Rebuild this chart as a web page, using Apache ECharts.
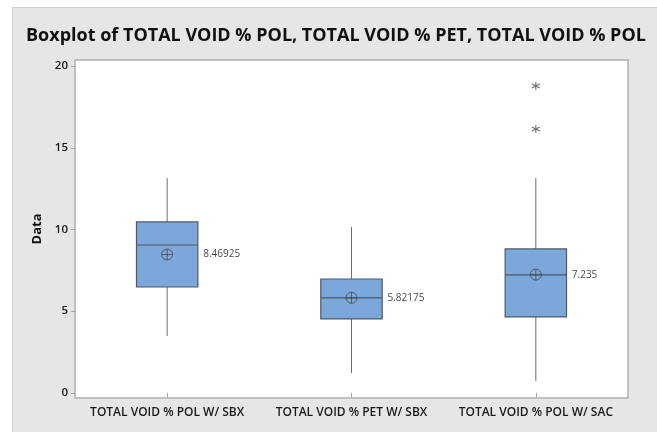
<!DOCTYPE html>
<html>
<head>
<meta charset="utf-8">
<script src="https://cdn.jsdelivr.net/npm/echarts@6/dist/echarts.min.js"></script>
<style>html,body{margin:0;padding:0;background:#fff;}#c{width:657px;height:432px;}</style>
</head>
<body>
<div id="c"></div>
<script>
const categories = ['TOTAL VOID % POL W/ SBX', 'TOTAL VOID % PET W/ SBX', 'TOTAL VOID % POL W/ SAC'];
// [min whisker, Q1, median, Q3, max whisker]
const boxStats = [
  [3.49, 6.48, 9.05, 10.46, 13.15],
  [1.22, 4.53, 5.81, 6.97, 10.15],
  [0.73, 4.65, 7.22, 8.81, 13.15]
];
const means = [8.46925, 5.82175, 7.235];
const outliers = [[2, 18.78], [2, 16.15]];
const yTicks = [0, 5, 10, 15, 20];

const chart = echarts.init(document.getElementById('c'));
const FONT = 'Open Sans';
const boxData = boxStats.map((s, i) => [i].concat(s));
const meanData = means.map((m, i) => [i, m]);

const crossCircle = 'path://M0,-10A10,10 0 1,1 0,10A10,10 0 1,1 0,-10Z M-10,0L10,0 M0,-10L0,10';
const asterisk = 'path://M0,-10L0,10 M-8.66,-5L8.66,5 M-8.66,5L8.66,-5';

chart.setOption({
  backgroundColor: '#ffffff',
  animation: false,
  graphic: [{
    type: 'rect', z: -10, silent: true,
    shape: { x: 12.5, y: 7.5, width: 660, height: 440 },
    style: { fill: '#e6e6e6', stroke: '#d0d0d0', lineWidth: 1 }
  }],
  title: {
    text: 'Boxplot of TOTAL VOID % POL, TOTAL VOID % PET, TOTAL VOID % POL',
    left: 21, top: 22,
    textStyle: { fontFamily: FONT, fontSize: 18, fontWeight: 'bold', color: '#111' }
  },
  grid: {
    left: 75, top: 60, right: 29, bottom: 34,
    show: true, backgroundColor: '#ffffff', borderColor: '#b0b0b0', borderWidth: 1.5
  },
  xAxis: {
    type: 'category', data: categories, boundaryGap: true,
    axisLine: { show: false },
    axisTick: { show: true, alignWithLabel: true, length: 4, lineStyle: { color: '#a0a0a0' } },
    axisLabel: { interval: 0, hideOverlap: false, fontFamily: FONT, fontSize: 12, fontWeight: 600, color: '#1a1a1a', margin: 9 },
    splitLine: { show: false }
  },
  yAxis: {
    type: 'value', min: -0.31, max: 20.37,
    name: 'Data', nameLocation: 'middle', nameGap: 30, nameRotate: 90,
    nameTextStyle: { fontFamily: FONT, fontSize: 13, fontWeight: 'bold', color: '#111' },
    axisLine: { show: false },
    axisTick: { show: true, length: 4, customValues: yTicks, lineStyle: { color: '#a0a0a0' } },
    axisLabel: { fontFamily: FONT, fontSize: 11.5, fontWeight: 600, color: '#1a1a1a', margin: 7, customValues: yTicks },
    splitLine: { show: false }
  },
  series: [
    {
      type: 'custom',
      data: boxData,
      encode: { x: 0, y: [1, 2, 3, 4, 5] },
      renderItem: function (params, api) {
        const c = api.value(0);
        const band = api.size([1, 0])[0];
        const w = band * 0.333;
        const pMin = api.coord([c, api.value(1)]);
        const pQ1 = api.coord([c, api.value(2)]);
        const pMed = api.coord([c, api.value(3)]);
        const pQ3 = api.coord([c, api.value(4)]);
        const pMax = api.coord([c, api.value(5)]);
        const x = pMin[0];
        return {
          type: 'group',
          children: [
            { type: 'line', shape: { x1: x, y1: pMax[1], x2: x, y2: pQ3[1] }, style: { stroke: '#6e6e6e', lineWidth: 1 } },
            { type: 'line', shape: { x1: x, y1: pQ1[1], x2: x, y2: pMin[1] }, style: { stroke: '#6e6e6e', lineWidth: 1 } },
            { type: 'rect', shape: { x: x - w / 2, y: pQ3[1], width: w, height: pQ1[1] - pQ3[1] }, style: { fill: '#7ba7da', stroke: '#4f5966', lineWidth: 1.2 } },
            { type: 'line', shape: { x1: x - w / 2, y1: pMed[1], x2: x + w / 2, y2: pMed[1] }, style: { stroke: '#4f5966', lineWidth: 1.2 } }
          ]
        };
      },
      z: 2
    },
    {
      type: 'scatter',
      data: meanData,
      symbol: crossCircle,
      symbolSize: 11,
      itemStyle: { color: 'rgba(0,0,0,0)', borderColor: '#4a4a4a', borderWidth: 1 },
      label: {
        show: true, position: 'right', distance: 30,
        formatter: function (p) { return String(p.value[1]); },
        fontFamily: FONT, fontSize: 10, color: '#111'
      },
      z: 3
    },
    {
      type: 'scatter',
      data: outliers,
      symbol: asterisk,
      symbolSize: 8,
      itemStyle: { color: 'rgba(0,0,0,0)', borderColor: '#4a4a4a', borderWidth: 1.1 },
      z: 3
    }
  ]
});
</script>
</body>
</html>
